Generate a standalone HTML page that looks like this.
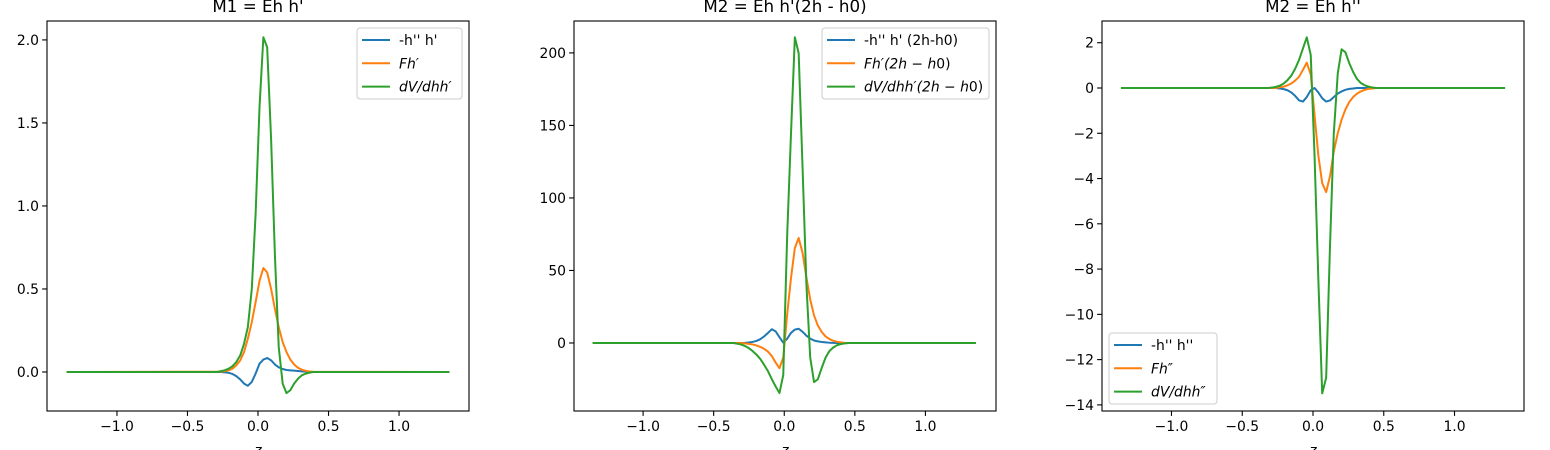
<!DOCTYPE html>
<html><head><meta charset="utf-8"><style>
html,body{margin:0;padding:0;background:#fff;}
svg{display:block;font-family:"DejaVu Sans","Liberation Sans",sans-serif;}
</style></head><body>
<svg id="chart" width="1550" height="450" viewBox="0 0 1550 450" xmlns="http://www.w3.org/2000/svg"></svg>
<script>
// ---- Panel 1 data ----
const p1BlueZ = [-1.35,-0.263,-0.236,-0.208,-0.181,-0.154,-0.126,-0.099,-0.072,-0.044,-0.017,0.011,0.038,0.065,0.093,0.120,0.147,0.175,0.202,0.229,0.256,0.284,0.311,0.338,0.366,0.393,1.35];
const p1BlueV = [0,0,-0.002,-0.005,-0.012,-0.025,-0.045,-0.07,-0.083,-0.06,-0.01,0.05,0.075,0.084,0.07,0.045,0.028,0.018,0.012,0.01,0.008,0.006,0.004,0.002,0.001,0,0];
const p1OrangeZ = [-1.35,-0.263,-0.236,-0.208,-0.181,-0.154,-0.126,-0.099,-0.072,-0.044,-0.017,0.011,0.038,0.065,0.093,0.120,0.147,0.175,0.202,0.229,0.256,0.284,0.311,0.338,0.366,0.393,1.35];
const p1OrangeV = [0,0.002,0.005,0.01,0.02,0.04,0.07,0.12,0.2,0.3,0.42,0.55,0.626,0.60,0.5,0.38,0.27,0.18,0.12,0.075,0.045,0.025,0.014,0.007,0.003,0.001,0];
const p1GreenZ = [-1.35,-0.29,-0.263,-0.236,-0.208,-0.181,-0.154,-0.126,-0.099,-0.072,-0.044,-0.017,0.011,0.038,0.065,0.093,0.120,0.147,0.175,0.202,0.229,0.256,0.284,0.311,0.338,0.366,0.393,1.35];
const p1GreenV = [0,0,0.005,0.01,0.02,0.035,0.06,0.1,0.17,0.27,0.5,0.95,1.6,2.016,1.956,1.4,0.7,0.15,-0.07,-0.127,-0.11,-0.07,-0.04,-0.02,-0.01,-0.004,0,0];
const p1YTicks = [0.0,0.5,1.0,1.5,2.0];
const p1YLabels = ["0.0","0.5","1.0","1.5","2.0"];

// ---- Panel 2 data ----
const p2BlueZ = [-1.35,-0.307,-0.28,-0.252,-0.225,-0.197,-0.17,-0.143,-0.115,-0.088,-0.061,-0.034,-0.007,0.021,0.048,0.075,0.102,0.13,0.157,0.184,0.211,0.238,0.266,0.293,0.32,0.348,0.375,1.35];
const p2BlueV = [0,0,0.1,0.3,0.7,1.4,2.6,4.5,7,9.5,8,4,0.2,3,7,9.2,9.8,7.7,5,3,1.7,1.1,0.7,0.4,0.2,0.1,0,0];
const p2OrangeZ = [-1.35,-0.307,-0.28,-0.252,-0.225,-0.197,-0.17,-0.143,-0.115,-0.088,-0.061,-0.034,-0.007,0.021,0.048,0.075,0.102,0.13,0.157,0.184,0.211,0.238,0.266,0.293,0.32,0.348,0.375,0.402,0.43,1.35];
const p2OrangeV = [0,0,-0.3,-0.6,-1,-1.7,-2.7,-4,-6,-9,-13.5,-17.4,-10,20,45,65.5,72.4,62,45,30,19,12,7.5,4.5,2.7,1.5,0.8,0.4,0,0];
const p2GreenZ = [-1.35,-0.362,-0.335,-0.307,-0.28,-0.252,-0.225,-0.197,-0.17,-0.143,-0.115,-0.088,-0.061,-0.034,-0.007,0.021,0.048,0.075,0.102,0.13,0.157,0.184,0.211,0.238,0.266,0.293,0.32,0.348,0.375,0.402,0.43,0.457,1.35];
const p2GreenV = [0,0,-0.5,-1,-2,-3.5,-5.5,-8,-11,-15,-19.5,-25,-30,-34.5,-22,75,145,210.8,199.8,120,40,-10,-27,-25,-17,-10,-5.5,-3,-1.5,-0.7,-0.3,0,0];
const p2YTicks = [0,50,100,150,200];
const p2YLabels = ["0","50","100","150","200"];

// ---- Panel 3 data ----
const p3BlueZ = [-1.35,-0.263,-0.236,-0.207,-0.18,-0.153,-0.126,-0.098,-0.071,-0.044,-0.016,0.011,0.038,0.065,0.093,0.12,0.147,0.175,0.202,0.229,0.256,0.284,0.311,1.35];
const p3BlueV = [0,0,-0.02,-0.05,-0.1,-0.2,-0.35,-0.55,-0.6,-0.4,-0.1,0,-0.2,-0.45,-0.6,-0.55,-0.4,-0.25,-0.15,-0.08,-0.04,-0.02,0,0];
const p3OrangeZ = [-1.35,-0.263,-0.236,-0.207,-0.18,-0.153,-0.126,-0.098,-0.071,-0.044,-0.016,0.011,0.038,0.065,0.093,0.12,0.147,0.175,0.202,0.229,0.256,0.284,0.311,0.338,0.366,0.393,0.42,0.447,1.35];
const p3OrangeV = [0,0,0.03,0.06,0.12,0.2,0.33,0.5,0.8,1.12,0.6,-1.2,-3,-4.2,-4.6,-3.9,-2.8,-2.0,-1.4,-0.95,-0.62,-0.4,-0.25,-0.15,-0.08,-0.04,-0.02,0,0];
const p3GreenZ = [-1.35,-0.32,-0.29,-0.262,-0.235,-0.207,-0.18,-0.153,-0.126,-0.098,-0.071,-0.044,-0.016,0.011,0.038,0.065,0.093,0.12,0.147,0.175,0.202,0.229,0.256,0.284,0.311,0.338,0.366,0.393,0.42,0.447,1.35];
const p3GreenV = [0,0,0.02,0.05,0.1,0.2,0.35,0.55,0.85,1.25,1.75,2.24,1.46,-3,-8.5,-13.49,-12.8,-7,-2,0.65,1.71,1.58,1.1,0.7,0.4,0.22,0.12,0.06,0.02,0,0];
const p3YTicks = [2,0,-2,-4,-6,-8,-10,-12,-14];
const p3YLabels = ["2","0","\u22122","\u22124","\u22126","\u22128","\u221210","\u221212","\u221214"];

const xTicks = [-1.0,-0.5,0.0,0.5,1.0];
const xLabels = ["\u22121.0","\u22120.5","0.0","0.5","1.0"];

const NS = "http://www.w3.org/2000/svg";
const svg = document.getElementById("chart");
const C = {blue:"#1f77b4", orange:"#ff7f0e", green:"#2ca02c"};

function mk(tag, attrs, parent){
  const e = document.createElementNS(NS, tag);
  for (const k in attrs) e.setAttribute(k, attrs[k]);
  (parent||svg).appendChild(e);
  return e;
}

function panel(cfg){
  const g = mk("g", {});
  
  
  const L=cfg.left, R=cfg.right, T=21, B=411;
  const xs = v => L + (v - cfg.xmin)/(cfg.xmax - cfg.xmin)*(R-L);
  const ys = v => B - (v - cfg.ymin)/(cfg.ymax - cfg.ymin)*(B-T);
  cfg.series.forEach(s=>{
    const d = s.z.map((z,i)=>(i?"L":"M")+xs(z).toFixed(2)+","+ys(s.v[i]).toFixed(2)).join(" ");
    const p = mk("path", {d:d, fill:"none", stroke:s.color, "stroke-width":2, "stroke-linejoin":"round", "stroke-linecap":"square"}, g);
    
    
  });
  const fr = mk("rect", {x:L, y:T, width:R-L, height:B-T, fill:"none", stroke:"#000", "stroke-width":1.1}, g);
  
  
  xTicks.forEach((t,i)=>{
    const x = xs(t);
    mk("line", {x1:x, x2:x, y1:B, y2:B+4.9, stroke:"#000", "stroke-width":1.1}, g);
    const tx = mk("text", {x:x, y:B+20, "text-anchor":"middle", "font-size":"13.9px", fill:"#000"}, g);
    tx.textContent = xLabels[i];
    
    
  });
  cfg.yTicks.forEach((t,i)=>{
    const y = ys(t);
    mk("line", {x1:L-4.9, x2:L, y1:y, y2:y, stroke:"#000", "stroke-width":1.1}, g);
    const tx = mk("text", {x:L-8, y:y+5, "text-anchor":"end", "font-size":"13.9px", fill:"#000"}, g);
    tx.textContent = cfg.yLabels[i];
    
    
  });
  const ti = mk("text", {x:(L+R)/2, y:12, "text-anchor":"middle", "font-size":"16.7px", fill:"#000"}, g);
  ti.textContent = cfg.title;
  
  
  const xl = mk("text", {x:(L+R)/2, y:455, "text-anchor":"middle", "font-size":"13.9px", "font-style":"italic", fill:"#000"}, g);
  xl.textContent = "z";
  
  
  const lg = cfg.legend;
  const lgG = mk("g", {}, g);
  
  
  mk("rect", {x:lg.x, y:lg.y, width:lg.w, height:71, rx:3, fill:"#fff", "fill-opacity":0.8, stroke:"#ccc", "stroke-width":1}, lgG);
  cfg.series.forEach((s,i)=>{
    const yy = lg.y + 12 + i*23.3;
    mk("line", {x1:lg.x+5, x2:lg.x+33, y1:yy, y2:yy, stroke:s.color, "stroke-width":2}, lgG);
    const tx = mk("text", {x:lg.x+42, y:yy+5, "font-size":"13.9px", fill:"#000"}, lgG);
    tx.innerHTML = s.label;
    
    
  });
}

const I = t => '<tspan font-style="italic">'+t+'</tspan>';
panel({name:"panel-m1", title:"M1 = Eh h'", left:47, right:469, xmin:-1.496, xmax:1.496, ymin:-0.235, ymax:2.114,
  yTicks:p1YTicks, yLabels:p1YLabels, legend:{x:357, y:28, w:105},
  series:[{id:"series-blue",z:p1BlueZ,v:p1BlueV,color:C.blue,label:"-h'' h'"},
          {id:"series-orange",z:p1OrangeZ,v:p1OrangeV,color:C.orange,label:I("Fh\u2032")},
          {id:"series-green",z:p1GreenZ,v:p1GreenV,color:C.green,label:I("dV/dhh\u2032")}]});
panel({name:"panel-m2a", title:"M2 = Eh h'(2h - h0)", left:574, right:996, xmin:-1.4895, xmax:1.5, ymin:-46.9, ymax:222,
  yTicks:p2YTicks, yLabels:p2YLabels, legend:{x:822, y:28, w:167},
  series:[{id:"series-blue",z:p2BlueZ,v:p2BlueV,color:C.blue,label:"-h'' h' (2h-h0)"},
          {id:"series-orange",z:p2OrangeZ,v:p2OrangeV,color:C.orange,label:I("Fh\u2032(2h \u2212 h")+"0)"},
          {id:"series-green",z:p2GreenZ,v:p2GreenV,color:C.green,label:I("dV/dhh\u2032(2h \u2212 h")+"0)"}]});
panel({name:"panel-m2b", title:"M2 = Eh h''", left:1102, right:1524, xmin:-1.491, xmax:1.491, ymin:-14.27, ymax:2.96,
  yTicks:p3YTicks, yLabels:p3YLabels, legend:{x:1109, y:333, w:108},
  series:[{id:"series-blue",z:p3BlueZ,v:p3BlueV,color:C.blue,label:"-h'' h''"},
          {id:"series-orange",z:p3OrangeZ,v:p3OrangeV,color:C.orange,label:I("Fh\u2033")},
          {id:"series-green",z:p3GreenZ,v:p3GreenV,color:C.green,label:I("dV/dhh\u2033")}]});
</script>
</body></html>
